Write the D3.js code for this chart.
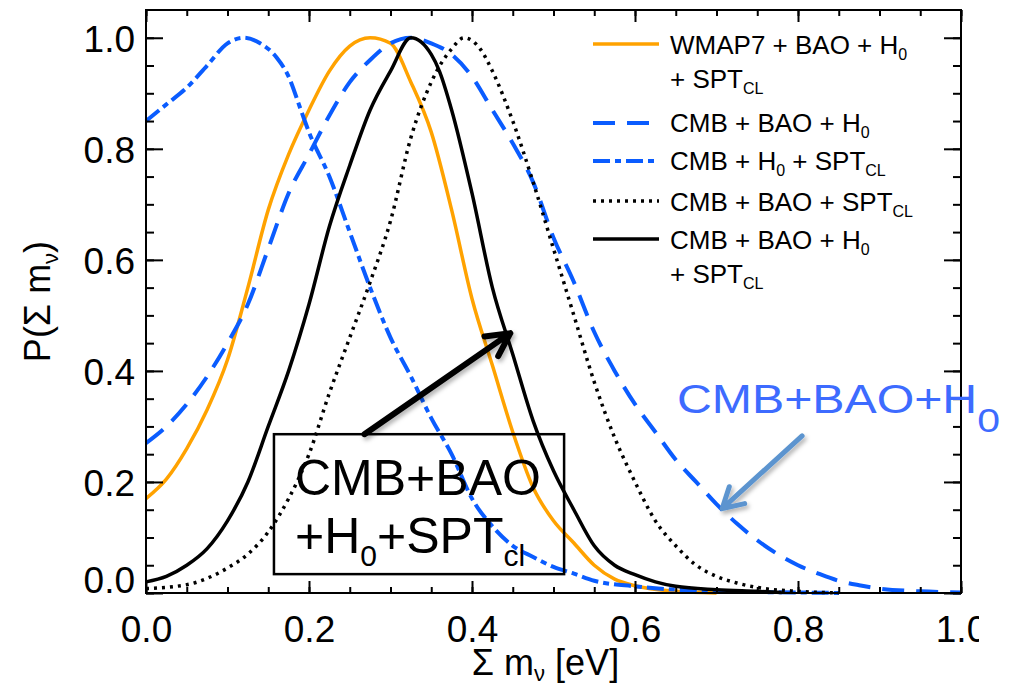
<!DOCTYPE html>
<html>
<head>
<meta charset="utf-8">
<script src="https://cdn.jsdelivr.net/npm/d3@7"></script>
<style>
  body { margin: 0; background: #fff; }
  svg { display: block; font-family: "Liberation Sans", Arial, Helvetica, sans-serif; }
</style>
</head>
<body>
<svg id="chart" width="1017" height="691"></svg>
<script>
// Posterior of the summed neutrino mass, Σmν [eV], for several data combinations.

// WMAP7 + BAO + H0 + SPT_CL
const wmapMass = [0, 0.025, 0.05, 0.075, 0.1, 0.125, 0.15, 0.175, 0.2, 0.225, 0.25, 0.275, 0.3, 0.325, 0.35, 0.375, 0.4, 0.425, 0.45, 0.475, 0.5, 0.525, 0.55, 0.575, 0.6, 0.65, 0.7];
const wmapProb = [0.17, 0.205, 0.26, 0.33, 0.42, 0.55, 0.69, 0.79, 0.87, 0.94, 0.985, 1.0, 0.99, 0.92, 0.83, 0.69, 0.53, 0.41, 0.29, 0.19, 0.13, 0.09, 0.05, 0.025, 0.013, 0.003, 0.0];

// CMB + BAO + H0
const cmbBaoH0Mass = [0, 0.025, 0.05, 0.075, 0.1, 0.125, 0.15, 0.175, 0.2, 0.225, 0.25, 0.275, 0.3, 0.325, 0.35, 0.375, 0.4, 0.425, 0.45, 0.475, 0.5, 0.525, 0.55, 0.575, 0.6, 0.625, 0.65, 0.675, 0.7, 0.725, 0.75, 0.775, 0.8, 0.825, 0.85, 0.875, 0.9, 0.95, 1.0];
const cmbBaoH0Prob = [0.27, 0.30, 0.34, 0.39, 0.45, 0.52, 0.62, 0.72, 0.79, 0.86, 0.92, 0.96, 0.99, 1.0, 0.99, 0.97, 0.93, 0.87, 0.81, 0.74, 0.64, 0.56, 0.47, 0.40, 0.34, 0.29, 0.24, 0.20, 0.16, 0.125, 0.095, 0.07, 0.05, 0.035, 0.022, 0.014, 0.008, 0.003, 0.001];

// CMB + H0 + SPT_CL
const cmbH0SptMass = [0, 0.025, 0.05, 0.075, 0.1, 0.12, 0.14, 0.16, 0.175, 0.19, 0.2, 0.225, 0.25, 0.275, 0.3, 0.325, 0.35, 0.375, 0.4, 0.425, 0.45, 0.475, 0.5, 0.525, 0.55, 0.6, 0.65, 0.7, 0.8, 0.85];
const cmbH0SptProb = [0.85, 0.88, 0.91, 0.95, 0.99, 1.0, 0.99, 0.965, 0.93, 0.87, 0.83, 0.75, 0.65, 0.55, 0.46, 0.39, 0.315, 0.25, 0.17, 0.12, 0.085, 0.065, 0.047, 0.035, 0.022, 0.012, 0.006, 0.003, 0.001, 0.0];

// CMB + BAO + SPT_CL
const cmbBaoSptMass = [0, 0.05, 0.1, 0.125, 0.15, 0.175, 0.2, 0.225, 0.25, 0.275, 0.3, 0.325, 0.35, 0.375, 0.39, 0.41, 0.425, 0.45, 0.475, 0.5, 0.525, 0.55, 0.575, 0.6, 0.625, 0.65, 0.675, 0.7, 0.725, 0.75, 0.8, 0.85];
const cmbBaoSptProb = [0.008, 0.015, 0.045, 0.07, 0.11, 0.17, 0.25, 0.36, 0.46, 0.56, 0.67, 0.82, 0.92, 0.98, 1.0, 0.98, 0.94, 0.85, 0.74, 0.62, 0.50, 0.38, 0.28, 0.20, 0.13, 0.085, 0.05, 0.03, 0.018, 0.01, 0.003, 0.0];

// CMB + BAO + H0 + SPT_CL
const cmbAllMass = [0, 0.025, 0.05, 0.075, 0.1, 0.125, 0.15, 0.175, 0.2, 0.225, 0.25, 0.275, 0.3, 0.325, 0.35, 0.36, 0.375, 0.4, 0.425, 0.45, 0.475, 0.5, 0.525, 0.55, 0.575, 0.6, 0.625, 0.65, 0.7, 0.75, 0.78];
const cmbAllProb = [0.02, 0.03, 0.05, 0.08, 0.13, 0.2, 0.30, 0.40, 0.52, 0.66, 0.77, 0.87, 0.94, 1.0, 0.97, 0.94, 0.87, 0.72, 0.55, 0.43, 0.31, 0.22, 0.15, 0.085, 0.05, 0.033, 0.02, 0.012, 0.006, 0.003, 0.001];

// Axis ticks
const xMajorTicks = [0, 0.2, 0.4, 0.6, 0.8, 1.0];
const xMinorTicks = d3.range(0, 21).map(i => i * 0.05);
const yMajorTicks = [0, 0.2, 0.4, 0.6, 0.8, 1.0];
const yMinorTicks = d3.range(0, 21).map(i => i * 0.05);

const series = [
  { mass: wmapMass, prob: wmapProb, color: "#ffa200", width: 3.5, dash: null,
    label: [[["WMAP7 + BAO + H", ""], ["0", "sub"]], [["+ SPT", ""], ["CL", "sub"]]] },
  { mass: cmbBaoH0Mass, prob: cmbBaoH0Prob, color: "#0a5cff", width: 4, dash: "22,12",
    label: [[["CMB + BAO + H", ""], ["0", "sub"]]] },
  { mass: cmbH0SptMass, prob: cmbH0SptProb, color: "#0a5cff", width: 4, dash: "17,5,6,5",
    label: [[["CMB + H", ""], ["0", "sub"], [" + SPT", ""], ["CL", "sub"]]] },
  { mass: cmbBaoSptMass, prob: cmbBaoSptProb, color: "#000", width: 3.5, dash: "3,5",
    label: [[["CMB + BAO + SPT", ""], ["CL", "sub"]]] },
  { mass: cmbAllMass, prob: cmbAllProb, color: "#000", width: 3.5, dash: null,
    label: [[["CMB + BAO + H", ""], ["0", "sub"]], [["+ SPT", ""], ["CL", "sub"]]] }
];

// Legend row positions (line y, text baselines)
const legendRows = [
  { lineY: 44, base: [54, 88] },
  { lineY: 123, base: [132] },
  { lineY: 161, base: [170] },
  { lineY: 201, base: [211] },
  { lineY: 239, base: [249, 283] }
];

const svg = d3.select("#chart");
const x = d3.scaleLinear().domain([0, 1]).range([146, 961]);
const y = d3.scaleLinear().domain([0, 1.05]).range([593, 10]);

const defs = svg.append("defs");
defs.append("clipPath").attr("id", "labelClip")
  .append("rect").attr("x", -50).attr("y", -50).attr("width", 979 + 50).attr("height", 300);
const shadow = defs.append("filter").attr("id", "shadow")
  .attr("x", "-20%").attr("y", "-20%").attr("width", "140%").attr("height", "140%");
shadow.append("feDropShadow").attr("dx", 2).attr("dy", 3).attr("stdDeviation", 2)
  .attr("flood-color", "#000").attr("flood-opacity", 0.3);

// Curves
const line = d3.line().x(d => x(d[0])).y(d => y(d[1])).curve(d3.curveMonotoneX);
series.forEach(s => {
  svg.append("path")
    .datum(s.mass.map((m, i) => [m, s.prob[i]]))
    .attr("d", line)
    .attr("fill", "none")
    .attr("stroke", s.color)
    .attr("stroke-width", s.width)
    .attr("stroke-dasharray", s.dash)
    .attr("stroke-linejoin", "round");
});

// Axes: ticks point inward on all four sides
const tickFont = 37;
function styleAxis(g) {
  g.select(".domain").remove();
  g.selectAll(".tick line").attr("stroke", "#000").attr("stroke-width", 2);
}
const axisBottomG = svg.append("g").attr("transform", `translate(0,${y(0)})`);
axisBottomG.append("g").call(d3.axisBottom(x).tickValues(xMinorTicks).tickSize(-6).tickFormat("")).call(styleAxis);
const bottomMajor = axisBottomG.append("g").attr("clip-path", "url(#labelClip)")
  .call(d3.axisBottom(x).tickValues(xMajorTicks).tickSize(-12).tickSizeOuter(0).tickFormat(d3.format(".1f")))
  .call(styleAxis);
bottomMajor.selectAll(".tick text")
  .attr("y", 49).attr("dy", null)
  .attr("font-size", tickFont).attr("font-family", "Liberation Sans, Arial, sans-serif").attr("fill", "#000");

const axisTopG = svg.append("g").attr("transform", `translate(0,${y(1.05)})`);
axisTopG.append("g").call(d3.axisTop(x).tickValues(xMinorTicks).tickSize(-6).tickFormat("")).call(styleAxis);
axisTopG.append("g").call(d3.axisTop(x).tickValues(xMajorTicks).tickSize(-12).tickFormat("")).call(styleAxis);

const axisLeftG = svg.append("g").attr("transform", `translate(${x(0)},0)`);
axisLeftG.append("g").call(d3.axisLeft(y).tickValues(yMinorTicks).tickSize(-8).tickFormat("")).call(styleAxis);
const leftMajor = axisLeftG.append("g")
  .call(d3.axisLeft(y).tickValues(yMajorTicks).tickSize(-17).tickPadding(11).tickFormat(d3.format(".1f")))
  .call(styleAxis);
leftMajor.selectAll(".tick text")
  .attr("x", -11)
  .attr("dy", d => d === 0 ? "-0.02em" : "0.36em")
  .attr("font-size", tickFont).attr("font-family", "Liberation Sans, Arial, sans-serif").attr("fill", "#000");

const axisRightG = svg.append("g").attr("transform", `translate(${x(1)},0)`);
axisRightG.append("g").call(d3.axisRight(y).tickValues(yMinorTicks).tickSize(-8).tickFormat("")).call(styleAxis);
axisRightG.append("g").call(d3.axisRight(y).tickValues(yMajorTicks).tickSize(-17).tickFormat("")).call(styleAxis);

// Plot frame
svg.append("rect")
  .attr("x", x(0)).attr("y", y(1.05))
  .attr("width", x(1) - x(0)).attr("height", y(0) - y(1.05))
  .attr("fill", "none").attr("stroke", "#000").attr("stroke-width", 2);

// Axis titles
const xTitle = svg.append("text")
  .attr("x", (x(0) + x(1)) / 2 - 8).attr("y", 675)
  .attr("text-anchor", "middle").attr("font-size", 36);
xTitle.append("tspan").text("Σ m");
xTitle.append("tspan").attr("font-size", 22).attr("dy", 6).text("ν");
xTitle.append("tspan").attr("dy", -6).text(" [eV]");

const yTitle = svg.append("text")
  .attr("transform", `translate(50,${(y(0) + y(1.05)) / 2}) rotate(-90)`)
  .attr("text-anchor", "middle").attr("font-size", 36);
yTitle.append("tspan").text("P(Σ m");
yTitle.append("tspan").attr("font-size", 22).attr("dy", 8).text("ν");
yTitle.append("tspan").attr("dy", -8).text(")");

// Legend
const legX0 = 593, legX1 = 659, legTextX = 670;
series.forEach((s, i) => {
  const row = legendRows[i];
  svg.append("line")
    .attr("x1", legX0).attr("x2", legX1).attr("y1", row.lineY).attr("y2", row.lineY)
    .attr("stroke", s.color).attr("stroke-width", s.width)
    .attr("stroke-dasharray", s.dash);
  s.label.forEach((parts, li) => {
    const t = svg.append("text").attr("x", legTextX).attr("y", row.base[li]).attr("font-size", 26);
    parts.forEach(([str, kind], k) => {
      const prev = k > 0 ? parts[k - 1][1] : "";
      const ts = t.append("tspan").text(str);
      if (kind === "sub") ts.attr("font-size", 16).attr("dy", 6);
      else if (prev === "sub") ts.attr("dy", -6);
    });
  });
});

// Annotation: boxed label with arrow pointing at the combined constraint
const boxX0 = 0.157, boxX1 = 0.513, boxY0 = 0.034, boxY1 = 0.286;
svg.append("rect")
  .attr("x", x(boxX0)).attr("y", y(boxY1))
  .attr("width", x(boxX1) - x(boxX0)).attr("height", y(boxY0) - y(boxY1))
  .attr("fill", "none").attr("stroke", "#000").attr("stroke-width", 2.5);
svg.append("text").attr("x", 295).attr("y", 495).attr("font-size", 50).text("CMB+BAO");
const b2 = svg.append("text").attr("x", 295).attr("y", 553).attr("font-size", 50);
b2.append("tspan").text("+H");
b2.append("tspan").attr("font-size", 30).attr("dy", 13).text("0");
b2.append("tspan").attr("dy", -13).text("+SPT");
b2.append("tspan").attr("font-size", 30).attr("dy", 13).text("cl");

function arrow(x0, y0, x1, y1, color, width, headLen, headAng) {
  const px0 = x(x0), py0 = y(y0), px1 = x(x1), py1 = y(y1);
  const ang = Math.atan2(py0 - py1, px0 - px1);
  const a1 = ang + headAng, a2 = ang - headAng;
  const d = `M${px0},${py0}L${px1},${py1}` +
    `M${px1 + headLen * Math.cos(a1)},${py1 + headLen * Math.sin(a1)}L${px1},${py1}` +
    `L${px1 + headLen * Math.cos(a2)},${py1 + headLen * Math.sin(a2)}`;
  svg.append("path").attr("d", d).attr("fill", "none")
    .attr("stroke", color).attr("stroke-width", width)
    .attr("stroke-linecap", "round").attr("stroke-linejoin", "round")
    .attr("filter", "url(#shadow)");
}
arrow(0.268, 0.286, 0.447, 0.468, "#000", 6, 26, 0.48);

// Annotation: CMB + BAO + H0 label pointing at the dashed curve
const blueLabel = svg.append("text").attr("x", 677).attr("y", 413).attr("font-size", 40)
  .attr("fill", "#3d6bff").attr("textLength", 323).attr("lengthAdjust", "spacingAndGlyphs");
blueLabel.append("tspan").text("CMB+BAO+H");
blueLabel.append("tspan").attr("font-size", 34).attr("dy", 19).text("0");
arrow(0.805, 0.283, 0.707, 0.152, "#5b94cf", 5, 23, 0.52);
</script>
</body>
</html>
